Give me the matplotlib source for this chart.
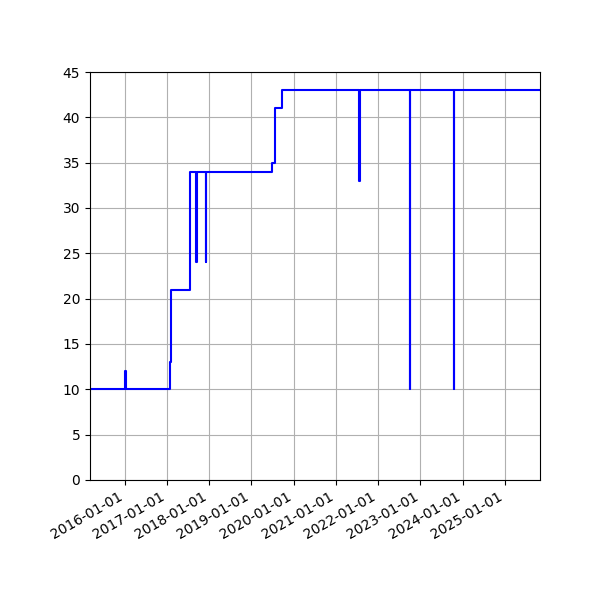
import matplotlib
matplotlib.use("Agg")
import matplotlib.pyplot as plt
import matplotlib.dates as mdates
import numpy as np

dates = [
    "2015-03-07", "2016-01-08", "2016-01-16", "2017-01-25", "2017-02-01",
    "2017-07-19", "2017-09-13", "2017-09-19", "2017-11-30", "2017-12-03",
    "2019-06-26", "2019-07-22", "2019-07-25", "2019-07-28", "2019-09-20",
    "2021-07-22", "2021-07-25", "2022-10-04", "2022-10-07",
    "2023-10-20", "2023-10-23", "2025-11-01",
]
values = [
    10, 12, 10, 13, 21,
    34, 24, 34, 24, 34,
    35, 39, 40, 41, 43,
    33, 43, 10, 43,
    10, 43, 43,
]

x = np.array(dates, dtype="datetime64[D]")
y = np.array(values)

fig = plt.figure(figsize=(6, 6), dpi=100)
ax = fig.add_subplot(111)
ax.plot(x, y, color="blue", drawstyle="steps-post", linewidth=1.5)
ax.set_xlim(x[0], x[-1])
ax.set_ylim(0, 45)
ax.xaxis.set_major_locator(mdates.YearLocator())
ax.xaxis.set_major_formatter(mdates.DateFormatter("%Y-%m-%d"))
ax.grid(True)
fig.autofmt_xdate()
fig.subplots_adjust(left=0.15, right=0.9, top=0.88, bottom=0.2)
fig.savefig("out.png", dpi=100)
